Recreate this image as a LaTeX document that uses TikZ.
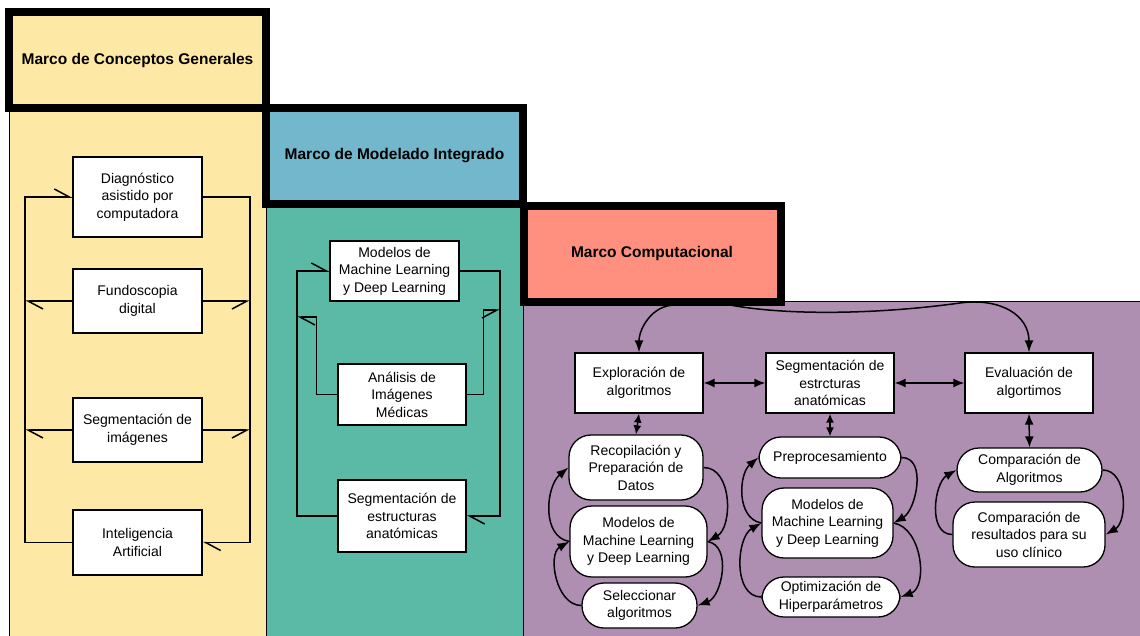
\documentclass[tikz,border=0pt]{standalone}
\usepackage{fontspec}
\setmainfont{Liberation Sans}
\usetikzlibrary{arrows.meta}

\definecolor{cgeneral}{HTML}{FEE8A5}
\definecolor{cmodel}{HTML}{72B7CB}
\definecolor{cmodelbg}{HTML}{5BBAA6}
\definecolor{ccomp}{HTML}{FF8F7F}
\definecolor{ccompbg}{HTML}{AE8FB2}

\begin{document}
\begin{tikzpicture}[x=1pt,y=1pt,
	marco/.style={draw, line width=8pt, minimum width=257pt, minimum height=96pt, inner sep=0pt, font=\fontsize{15.5}{18}\selectfont\bfseries},
	box/.style={draw, fill=white, line width=1.3pt, align=center, inner sep=0pt, font=\fontsize{14}{17.5}\selectfont},
	pill/.style={box, rounded corners=22pt},
	half/.style={line width=1.5pt, -{Straight Barb[harpoon, length=15pt, width=16pt]}},
	halfr/.style={line width=1.5pt, -{Straight Barb[harpoon, swap, length=15pt, width=16pt]}},
	arr/.style={line width=1.5pt, -{Latex[length=12pt, width=9pt]}},
	dbl/.style={line width=1.5pt, {Latex[length=11pt, width=9pt]}-{Latex[length=11pt, width=9pt]}},
	dbls/.style={line width=1.5pt, {Latex[length=9pt, width=8pt]}-{Latex[length=9pt, width=8pt]}}]

	\useasboundingbox[fill=white] (0,0) rectangle (1140,-635);

	\draw[fill=cgeneral, line width=1pt] (9,-108) rectangle (266,-645);
	\draw[fill=cmodelbg, line width=1pt] (266,-204) rectangle (523,-645);
	\draw[fill=ccompbg, line width=1pt] (523,-301) rectangle (1150,-645);

	\node[marco, fill=cgeneral] at (137.5,-60) (mg) {Marco de Conceptos Generales};
	\node[marco, fill=cmodel] at (394.5,-156) (mm) {Marco de Modelado Integrado};
	\node[marco, fill=ccomp] at (652,-253.5) (mc) {Marco Computacional};

	\node[box, minimum width=129pt, minimum height=80pt] at (137.5,-197) (diag) {Diagnóstico\\asistido por\\computadora};
	\node[box, minimum width=129pt, minimum height=64pt] at (137.5,-301) (fundo) {Fundoscopia\\digital};
	\node[box, minimum width=129pt, minimum height=64pt] at (137.5,-430) (segimg) {Segmentación de\\imágenes};
	\node[box, minimum width=129pt, minimum height=65pt] at (137.5,-542.5) (ia) {Inteligencia\\Artificial};

	\coordinate (lline) at (25,0);
	\coordinate (rline) at (250,0);
	\draw[half] (ia.west) -| (lline |- diag.west) -- (diag.west);
	\draw[half] (fundo.west) -- (fundo.west -| lline);
	\draw[half] (segimg.west) -- (segimg.west -| lline);
	\draw[half] (diag.east) -| (rline |- ia.east) -- (ia.east);
	\draw[halfr] (fundo.east) -- (fundo.east -| rline);
	\draw[halfr] (segimg.east) -- (segimg.east -| rline);

	\node[box, minimum width=129pt, minimum height=60pt] at (394.5,-271) (mlmid) {Modelos de\\Machine Learning\\y Deep Learning};
	\node[box, minimum width=128pt, minimum height=61pt] at (402,-394.5) (ana) {Análisis de\\Imágenes\\Médicas};
	\node[box, minimum width=128pt, minimum height=72pt] at (402,-516) (segest) {Segmentación de\\estructuras\\anatómicas};

	\coordinate (mleft) at (297,0);
	\coordinate (mright) at (500,0);
	\coordinate (anaL) at (297,-317);
	\coordinate (anaR) at (500,-310);
	\draw[half] (segest.west) -| (mleft |- mlmid.west) -- (mlmid.west);
	\draw[half] (mlmid.east) -| (mright |- segest.east) -- (segest.east);
	\draw[half] (ana.west) -- ++(-21,0) |- (anaL);
	\draw[halfr] (ana.east) -- ++(17,0) |- (anaR);

	\node[box, minimum width=128pt, minimum height=60pt] at (639,-383) (expl) {Exploración de\\algoritmos};
	\node[box, minimum width=128pt, minimum height=60pt] at (830,-383) (segan) {Segmentación de\\estrcturas\\anatómicas};
	\node[box, minimum width=128pt, minimum height=60pt] at (1029,-383) (eval) {Evaluación de\\algortimos};

	\node[pill, minimum width=134pt, minimum height=65pt] at (636,-467.5) (rec) {Recopilación y\\Preparación de\\Datos};
	\node[pill, minimum width=137pt, minimum height=71pt] at (638.5,-541.5) (mlA) {Modelos de\\Machine Learning\\y Deep Learning};
	\node[pill, minimum width=115pt, minimum height=45pt] at (639.5,-605.5) (sel) {Seleccionar\\algoritmos};

	\node[pill, minimum width=142pt, minimum height=41pt] at (830,-457.5) (pre) {Preprocesamiento};
	\node[pill, minimum width=131pt, minimum height=70pt] at (827.5,-523) (mlB) {Modelos de\\Machine Learning\\y Deep Learning};
	\node[pill, minimum width=138pt, minimum height=40pt] at (831,-597) (opt) {Optimización de\\Hiperparámetros};

	\node[pill, minimum width=145pt, minimum height=44pt] at (1029.5,-470) (comp) {Comparación de\\Algoritmos};
	\node[pill, minimum width=152pt, minimum height=65pt] at (1029,-534.5) (res) {Comparación de\\resultados para su\\uso clínico};

	\coordinate (mcA) at (675,-305);
	\coordinate (mcB) at (730,-305);
	\draw[arr] (mcA) to[out=180, in=90] (expl.north);
	\draw[arr] (mcB) .. controls (790,-316) and (880,-314) .. (960,-303) .. controls (1000,-297.5) and (1029,-315) .. (eval.north);

	\draw[dbl] (expl.east) -- (segan.west);
	\draw[dbl] (segan.east) -- (eval.west);
	\draw[dbls] (expl.south) -- (rec.north);
	\draw[dbls] (segan.south) -- (pre.north);
	\draw[dbl] (eval.south) -- (comp.north);

	\draw[arr] (mlA.west) to[out=170, in=220] (rec.west);
	\draw[arr] (rec.east) to[out=0, in=30] (mlA.east);
	\draw[arr] (mlA.east) to[out=-10, in=20] (sel.east);
	\draw[arr] (sel.west) to[out=180, in=210] (mlA.west);

	\draw[arr] (mlB.west) to[out=170, in=220] (pre.west);
	\draw[arr] (pre.east) to[out=0, in=30] (mlB.east);
	\draw[arr] (mlB.east) to[out=-10, in=20] (opt.east);
	\draw[arr] (opt.west) to[out=180, in=210] (mlB.west);

	\draw[arr] (comp.east) to[out=0, in=30] (res.east);
	\draw[arr] (res.west) to[out=180, in=210] (comp.west);
\end{tikzpicture}
\end{document}
